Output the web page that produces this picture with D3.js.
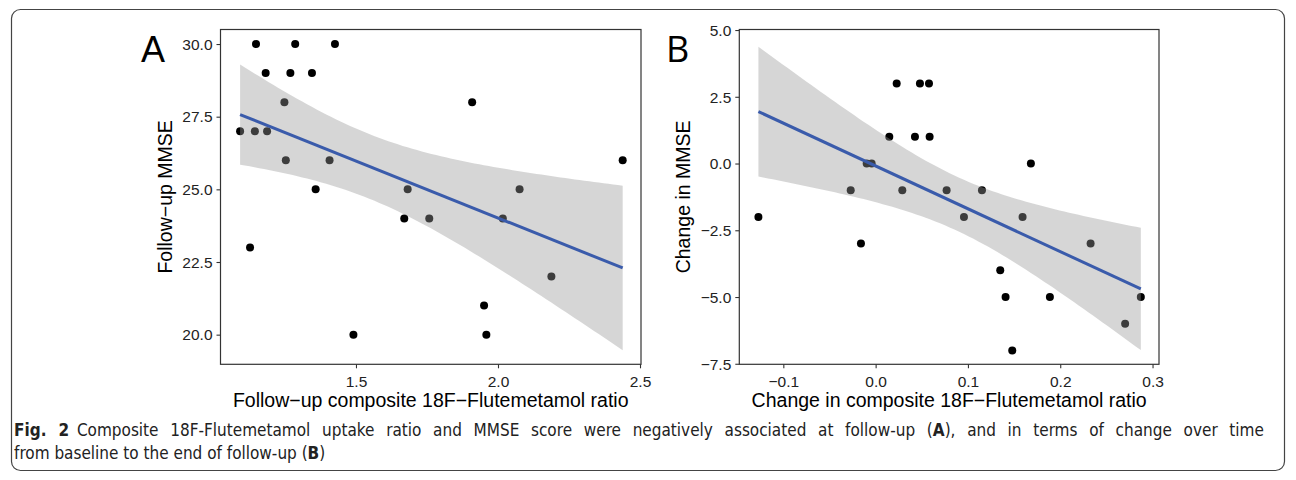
<!DOCTYPE html>
<html><head><meta charset="utf-8">
<script src="https://cdn.jsdelivr.net/npm/d3@7"></script>
<style>
body{margin:0;background:#fff;}
svg{display:block;}
</style></head>
<body>
<svg id="c" width="1296" height="480"></svg>
<script>
// Panel A data: follow-up composite ratio vs follow-up MMSE
const aRatio = [1.092,1.144,1.148,1.182,1.187,1.248,1.253,1.269,1.286,1.345,1.358,1.407,1.426,1.127,1.491,1.909,2.439,1.682,2.076,1.670,1.758,2.017,2.188,1.951,1.959];
const aMMSE  = [27,27,30,29,27,28,26,29,30,29,25,26,30,23,20,28,26,25,25,24,24,24,22,21,20];
// Panel B data: change in ratio vs change in MMSE
const bRatio = [-0.127,-0.027,-0.0097,-0.0043,0.0148,0.0228,0.0289,-0.0159,0.048,0.0578,0.0426,0.0585,0.1682,0.0769,0.1152,0.0957,0.1592,0.2329,0.135,0.1408,0.1888,0.2873,0.2703,0.148];
const bMMSE  = [-2,-1,0,0,1,3,-1,-3,3,3,1,1,0,-1,-1,-2,-2,-3,-4,-5,-5,-5,-6,-7];
// Tick labels
const aXTicks = [1.5,2.0,2.5];
const aYTicks = [20.0,22.5,25.0,27.5,30.0];
const bXTicks = [-0.1,0.0,0.1,0.2,0.3];
const bYTicks = [-7.5,-5.0,-2.5,0.0,2.5,5.0];

const svg = d3.select("#c");
const fmtMinus = s => s.replace("-", "\u2212");
const SANS = "'Liberation Sans', Arial, Helvetica, sans-serif";

// figure frame
svg.append("rect").attr("x",11.5).attr("y",9.5).attr("width",1273).attr("height",461)
  .attr("rx",9).attr("fill","none").attr("stroke","#444").attr("stroke-width",1.2);

function panel(cfg){
  const {xs, ys, xDom, yDom, xRange, yRange, xTicks, yTicks, xFmt, yFmt, xTitle, yTitle, yTitleX, label, labelX, labelFont} = cfg;
  const x = d3.scaleLinear().domain(xDom).range(xRange);
  const y = d3.scaleLinear().domain(yDom).range(yRange);
  const g = svg.append("g");
  // points (drawn first, band overlays them like ggplot)
  g.selectAll("circle").data(xs.map((v,i)=>[v,ys[i]])).join("circle")
    .attr("cx",d=>x(d[0])).attr("cy",d=>y(d[1])).attr("r",4).attr("fill","#000");
  // linear fit + 95% CI
  const n = xs.length, mx = d3.mean(xs), my = d3.mean(ys);
  let sxx=0, sxy=0;
  xs.forEach((v,i)=>{sxx+=(v-mx)**2; sxy+=(v-mx)*(ys[i]-my);});
  const b = sxy/sxx, a = my - b*mx;
  let sse=0; xs.forEach((v,i)=>{sse+=(ys[i]-(a+b*v))**2;});
  const s = Math.sqrt(sse/(n-2)), t = 2.07;
  const x0 = d3.min(xs), x1 = d3.max(xs);
  const grid = d3.range(0,81).map(k=>x0+(x1-x0)*k/80);
  const band = grid.map(v=>{const f=a+b*v, se=s*Math.sqrt(1/n+(v-mx)**2/sxx); return {v, lo:f-t*se, hi:f+t*se};});
  g.append("path").datum(band)
    .attr("d", d3.area().x(d=>x(d.v)).y0(d=>y(d.lo)).y1(d=>y(d.hi)))
    .attr("fill","#999").attr("fill-opacity",0.4);
  g.append("line").attr("x1",x(x0)).attr("x2",x(x1)).attr("y1",y(a+b*x0)).attr("y2",y(a+b*x1))
    .attr("stroke","#3a5bab").attr("stroke-width",3);
  // border
  g.append("rect").attr("x",xRange[0]).attr("y",yRange[1]).attr("width",xRange[1]-xRange[0]).attr("height",yRange[0]-yRange[1])
    .attr("fill","none").attr("stroke","#333").attr("stroke-width",1.2);
  // axes
  const xa = g.append("g").attr("transform",`translate(0,${yRange[0]})`)
    .call(d3.axisBottom(x).tickValues(xTicks).tickFormat(d=>fmtMinus(xFmt(d))).tickSize(4).tickSizeOuter(0));
  const ya = g.append("g").attr("transform",`translate(${xRange[0]},0)`)
    .call(d3.axisLeft(y).tickValues(yTicks).tickFormat(d=>fmtMinus(yFmt(d))).tickSize(4).tickSizeOuter(0));
  [xa,ya].forEach(ax=>{
    ax.select(".domain").remove();
    ax.selectAll(".tick line").attr("stroke","#333").attr("stroke-width",1.1);
    ax.selectAll(".tick text").attr("fill","#222").attr("font-family",SANS).attr("font-size",15.5);
  });
  xa.selectAll(".tick text").attr("dy","1.0em");
  ya.selectAll(".tick text").attr("dx","-1").attr("dy","0.34em");
  g.append("text").attr("x",(xRange[0]+xRange[1])/2).attr("y",407).attr("text-anchor","middle")
    .attr("font-family",SANS).attr("font-size",19.5).attr("fill","#000").text(xTitle);
  g.append("text").attr("transform",`translate(${yTitleX},${(yRange[0]+yRange[1])/2}) rotate(-90)`).attr("text-anchor","middle")
    .attr("font-family",SANS).attr("font-size",19.5).attr("fill","#000").text(yTitle);
  g.append("text").attr("x",labelX).attr("y",62).attr("font-family",labelFont).attr("font-size",36).attr("fill","#000").text(label);
}

panel({xs:aRatio, ys:aMMSE, xDom:[1.023,2.5035], yDom:[18.98,30.5], xRange:[220.5,641], yRange:[364.3,29.5],
  xTicks:aXTicks, yTicks:aYTicks, xFmt:d3.format(".1f"), yFmt:d3.format(".1f"),
  xTitle:"Follow\u2212up composite 18F\u2212Flutemetamol ratio", yTitle:"Follow\u2212up MMSE", yTitleX:172,
  label:"A", labelX:141, labelFont:SANS});
panel({xs:bRatio, ys:bMMSE, xDom:[-0.1477,0.307], yDom:[-7.52,5.02], xRange:[739.3,1159], yRange:[364.3,29.5],
  xTicks:bXTicks, yTicks:bYTicks, xFmt:d3.format(".1f"), yFmt:d3.format(".1f"),
  xTitle:"Change in composite 18F\u2212Flutemetamol ratio", yTitle:"Change in MMSE", yTitleX:690,
  label:"B", labelX:666, labelFont:"'Open Sans', 'Noto Sans', sans-serif"});

// caption
const cap = svg.append("g").attr("font-family","'DejaVu Sans Condensed', 'Liberation Sans Narrow', sans-serif")
  .attr("font-size",17).attr("fill","#222").style("font-stretch","condensed");
const l1 = cap.append("text").attr("x",14).attr("y",436);
l1.append("tspan").attr("font-weight","bold").text("Fig. 2");
l1.append("tspan").text("\u2002Composite 18F-Flutemetamol uptake ratio and MMSE score were negatively associated at follow-up (");
l1.append("tspan").attr("font-weight","bold").text("A");
l1.append("tspan").text("), and in terms of change over time");
// justify first line to the caption width
const target = 1250, w = l1.node().getComputedTextLength();
const nSpaces = (l1.text().match(/ /g)||[]).length;
if (w < target && nSpaces) l1.attr("word-spacing", ((target - w)/nSpaces).toFixed(2));
const l2 = cap.append("text").attr("x",14).attr("y",459);
l2.append("tspan").text("from baseline to the end of follow-up (");
l2.append("tspan").attr("font-weight","bold").text("B");
l2.append("tspan").text(")");
</script>
</body></html>
